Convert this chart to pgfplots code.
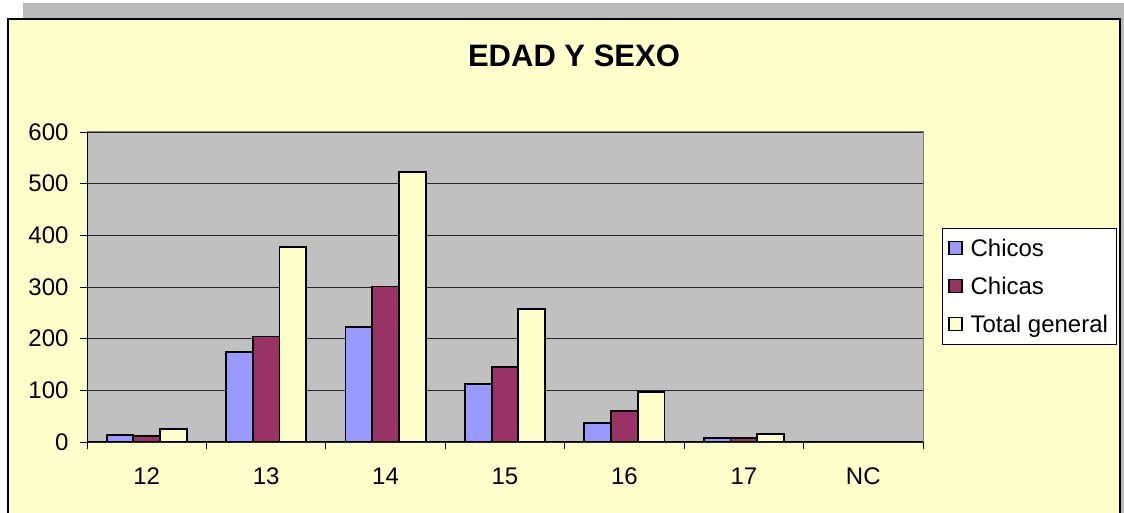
\documentclass[border=0pt]{standalone}
\usepackage{fontspec}
\setmainfont{Liberation Sans}
\usepackage{pgfplots}
\pgfplotsset{compat=1.18}
\definecolor{chicos}{HTML}{9999FF}
\definecolor{chicas}{HTML}{993366}
\definecolor{totalg}{HTML}{FFFFCC}
\definecolor{chartbg}{HTML}{FFFFCC}
\definecolor{plotbg}{HTML}{C0C0C0}
\definecolor{shadow}{HTML}{BABABA}
\begin{document}
\begin{tikzpicture}[x=1pt,y=1pt]
\useasboundingbox (0,0) rectangle (1124,513);
\fill[white] (0,0) rectangle (1124,513);
\fill[shadow] (23,-2) rectangle (1124,509.7);
\fill[chartbg] (7.5,-2) rectangle (1120,494);
\draw[black, line width=2pt] (7.5,-3) -- (7.5,494) -- (1120,494) -- (1120,-3);
\node[font=\bfseries\fontsize{31}{31}\selectfont] at (574,457) {EDAD Y SEXO};
\begin{axis}[
  at={(87pt,71pt)}, anchor=south west,
  scale only axis, width=836pt, height=310pt,
  ybar=0pt, bar width=26.7pt,
  xmin=-0.5, xmax=6.5, ymin=0, ymax=600,
  xtick={0,...,6}, xticklabels={12,13,14,15,16,17,NC},
  major x tick style={draw=none},
  minor xtick={-0.5,0.5,...,6.5},
  ytick={0,100,...,600},
  ymajorgrids, grid style={black!85, line width=0.8pt},
  tick align=outside, major tick length=7pt, minor tick length=7pt,
  tick style={black, line width=0.8pt},
  axis lines*=left, axis line style={-, black, line width=1pt},
  axis background/.style={fill=plotbg, draw=gray, line width=1pt},
  /pgf/number format/assume math mode=true,
  tick label style={font=\fontsize{24}{24}\selectfont},
  yticklabel style={xshift=-8pt},
  xticklabel style={yshift=-15pt},
  legend image code/.code={\draw[#1,draw=black,line width=1.3pt] (0pt,-6.5pt) rectangle (13pt,6.5pt);},
  legend style={at={(axis description cs:1.0227,0.690)}, anchor=north west,
    draw=black, fill=white, line width=0.6pt,
    font=\fontsize{24}{24}\selectfont,
    inner xsep=6pt, inner ysep=8.5pt, row sep=15pt,
    /tikz/every odd column/.append style={column sep=6pt},
    cells={anchor=west}},
]
\addplot[fill=chicos, draw=black, line width=1.8pt] coordinates {(0,14) (1,174) (2,222) (3,113) (4,36) (5,7) (6,0)};
\addplot[fill=chicas, draw=black, line width=1.8pt] coordinates {(0,11) (1,204) (2,301) (3,145) (4,60) (5,8) (6,0)};
\addplot[fill=totalg, draw=black, line width=1.8pt] coordinates {(0,25) (1,378) (2,523) (3,258) (4,96) (5,15) (6,0)};
\legend{Chicos,Chicas,Total general}
\end{axis}
\end{tikzpicture}
\end{document}
